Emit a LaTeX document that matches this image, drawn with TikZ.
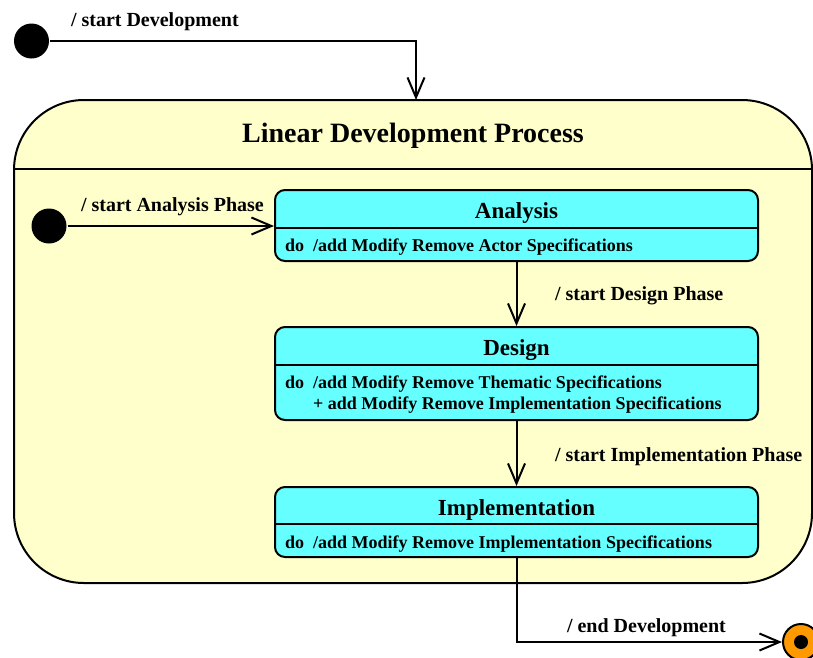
\documentclass[tikz,border=0pt]{standalone}
\usepackage{fontspec}
\setmainfont{Liberation Serif}
\usetikzlibrary{arrows.meta}
\definecolor{stateyellow}{HTML}{FFFFCC}
\definecolor{statecyan}{HTML}{66FFFF}
\definecolor{finalorange}{HTML}{FF9900}

\begin{document}
\begin{tikzpicture}[x=1pt,y=-1pt,line width=2pt,
  txt/.style={inner sep=0pt,font=\bfseries\fontsize{20}{24}\selectfont},
  trlabel/.style={txt,anchor=base west},
  bodytext/.style={inner sep=0pt,anchor=base west,font=\bfseries\fontsize{18}{22}\selectfont},
  statename/.style={inner sep=0pt,anchor=base,font=\bfseries\fontsize{23}{27}\selectfont},
  initstate/.style={circle,fill=black,draw=none,minimum size=35pt,inner sep=0pt},
  simplestate/.style={draw,fill=statecyan,rounded corners=10pt,minimum width=483pt,inner sep=0pt},
  trans/.style={-{Straight Barb[length=20pt,width=17pt]}}]

\useasboundingbox (0,0) rectangle (813,657);
\clip (0,0) rectangle (813,657);

% composite state
\node[draw,fill=stateyellow,rounded corners=70pt,minimum width=798pt,minimum height=483pt,inner sep=0pt]
  (outer) at (413,341.5) {};
\draw (outer.west |- 0,169) -- (outer.east |- 0,169);
\node[inner sep=0pt,anchor=base,font=\bfseries\fontsize{28}{32}\selectfont] (title) at (413,142) {Linear Development Process};

% initial states
\node[initstate] (init) at (31.5,41) {};
\node[initstate] (subinit) at (49,226) {};

% simple states
\node[simplestate,minimum height=71pt] (analysis) at (516.5,225.5) {};
\draw (analysis.west |- 0,228) -- (analysis.east |- 0,228);
\node[statename] (analysisname) at (516.5,218) {Analysis};
\node[bodytext] (analysisdo) at (284,251) {do\ \ /add Modify Remove Actor Specifications};

\node[simplestate,minimum height=93pt] (design) at (516.5,373.5) {};
\draw (design.west |- 0,365) -- (design.east |- 0,365);
\node[statename] (designname) at (516.5,355) {Design};
\node[bodytext] (designdo) at (284,388) {do\ \ /add Modify Remove Thematic Specifications};
\node[bodytext] (designdotwo) at (312,409) {+ add Modify Remove Implementation Specifications};

\node[simplestate,minimum height=70pt] (impl) at (516.5,522) {};
\draw (impl.west |- 0,524) -- (impl.east |- 0,524);
\node[statename] (implname) at (516.5,515) {Implementation};
\node[bodytext] (impldo) at (284,548) {do\ \ /add Modify Remove Implementation Specifications};

% final state
\node[circle,draw,fill=finalorange,minimum size=36pt,inner sep=0pt] (final) at (801,642) {};
\node[circle,fill=black,minimum size=14pt,inner sep=0pt] (finaldot) at (final.center) {};

% transitions
\coordinate (entry) at (416,100);
\draw[trans] (init.east) -| (entry);
\draw[trans] (subinit.east) -- (analysis.west |- subinit.east);
\draw[trans] (analysis.south) -- (design.north);
\draw[trans] (design.south) -- (impl.north);
\draw[trans] (impl.south) |- (final.west);

% transition labels
\node[trlabel] (l1) at (70,26) {/ start Development};
\node[trlabel] (l2) at (80,211) {/ start Analysis Phase};
\node[trlabel] (l3) at (554,300) {/ start Design Phase};
\node[trlabel] (l4) at (554,461) {/ start Implementation Phase};
\node[trlabel] (l5) at (566,632) {/ end Development};
\end{tikzpicture}
\end{document}
